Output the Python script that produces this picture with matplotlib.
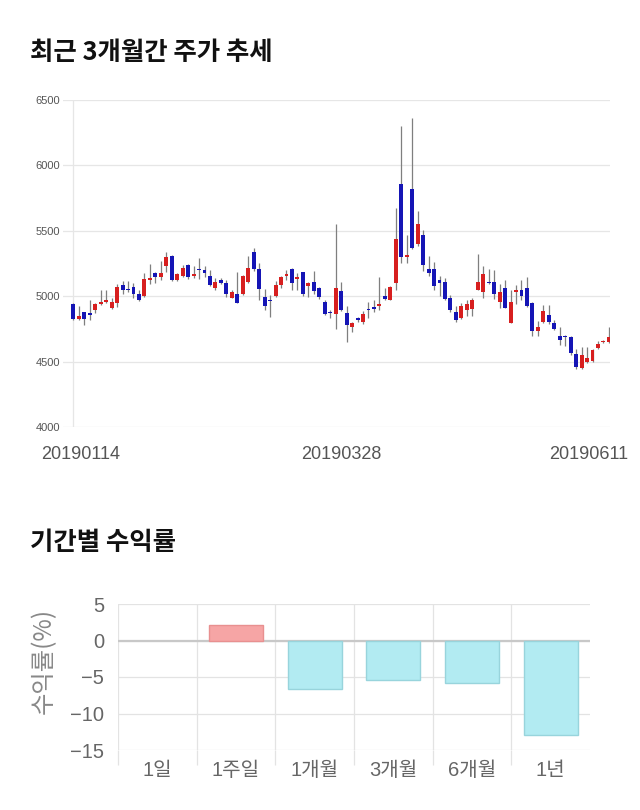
import matplotlib
matplotlib.use("Agg")
import matplotlib.pyplot as plt
import matplotlib.transforms as mtransforms

plt.rcParams['font.family'] = ['Noto Sans CJK KR', 'DejaVu Sans']
tick_font = ['Liberation Sans', 'Noto Sans CJK KR']

# daily candles (open, high, low, close), 20190114 ~ 20190611
opens = [4943, 4826, 4877, 4870, 4897, 4940, 4953, 4908, 4948, 5088,
         5050, 5070, 5019, 4999, 5126, 5177, 5146, 5228, 5309, 5126,
         5157, 5240, 5151, 5210, 5200, 5151, 5060, 5126, 5100, 4990,
         5019, 5019, 5106, 5337, 5207, 4994, 4974, 4999, 5088, 5151,
         5210, 5131, 5182, 5080, 5110, 5060, 4955, 4882, 4866, 5040,
         4871, 4762, 4833, 4805, 4905, 4914, 4925, 5001, 4973, 5100,
         5859, 5299, 5821, 5401, 5469, 5210, 5210, 5123, 5110, 4983,
         4877, 4833, 4897, 4903, 5050, 5030, 5110, 5110, 4958, 5060,
         4795, 5030, 5048, 5060, 4948, 4731, 4800, 4856, 4795, 4698,
         4698, 4688, 4561, 4450, 4496, 4501, 4602, 4648, 4650]
highs = [4950, 4922, 4880, 4968, 4948, 5050, 5050, 4985, 5090, 5115,
         5115, 5100, 5050, 5177, 5248, 5185, 5266, 5335, 5312, 5180,
         5240, 5245, 5230, 5290, 5230, 5200, 5138, 5140, 5126, 5050,
         5182, 5165, 5304, 5368, 5250, 5055, 5012, 5114, 5157, 5202,
         5215, 5177, 5182, 5110, 5190, 5070, 4973, 4897, 5553, 5106,
         4927, 4800, 4840, 4884, 4958, 4968, 5150, 5060, 5075, 5674,
         6301, 5471, 6359, 5649, 5507, 5304, 5258, 5156, 5138, 5011,
         4922, 4948, 4968, 4985, 5324, 5228, 5207, 5197, 5091, 5126,
         5050, 5088, 5126, 5146, 4953, 4808, 4935, 4935, 4820, 4764,
         4703, 4693, 4597, 4612, 4612, 4597, 4658, 4663, 4765]
lows = [4815, 4815, 4782, 4820, 4870, 4935, 4945, 4900, 4920, 5020,
        5030, 4985, 4965, 4995, 5090, 5100, 5125, 5188, 5120, 5120,
        5150, 5130, 5140, 5135, 5150, 5075, 5050, 5095, 4995, 4985,
        4948, 5010, 5100, 5190, 4968, 4897, 4841, 4994, 5060, 5126,
        5050, 5050, 5004, 4994, 5020, 4978, 4858, 4834, 4750, 4884,
        4648, 4724, 4800, 4790, 4834, 4879, 4897, 4968, 4968, 5048,
        5254, 5254, 5360, 5385, 5190, 5151, 5045, 5004, 4968, 4877,
        4800, 4826, 4848, 4852, 5045, 4988, 5095, 4978, 4908, 4908,
        4795, 4944, 4973, 4917, 4698, 4698, 4795, 4790, 4739, 4630,
        4617, 4554, 4445, 4447, 4490, 4498, 4597, 4643, 4643]
closes = [4826, 4846, 4826, 4860, 4940, 4953, 4970, 4958, 5070, 5050,
          5045, 5019, 4968, 5131, 5138, 5146, 5177, 5299, 5126, 5172,
          5218, 5146, 5172, 5200, 5177, 5088, 5108, 5100, 5019, 5030,
          4948, 5151, 5218, 5207, 5057, 4928, 4963, 5088, 5146, 5172,
          5100, 5146, 5019, 5100, 5040, 4994, 4866, 4870, 5060, 4897,
          4777, 4798, 4820, 4861, 4895, 4905, 4940, 4976, 5073, 5439,
          5299, 5314, 5365, 5553, 5235, 5177, 5080, 5098, 4978, 4892,
          4820, 4928, 4940, 4973, 5110, 5172, 5100, 5019, 5030, 4912,
          4958, 5050, 5004, 4922, 4731, 4767, 4889, 4800, 4749, 4668,
          4688, 4566, 4460, 4549, 4527, 4592, 4637, 4660, 4688]
date_labels = ['20190114', '20190328', '20190611']

periods = ['1일', '1주일', '1개월', '3개월', '6개월', '1년']
returns = [0, 2.1, -6.6, -5.45, -5.86, -12.95]

fig = plt.figure(figsize=(6.4, 8.1), dpi=100)

fig.text(30 / 640, 1 - 52 / 810, '최근 3개월간 주가 추세', fontsize=18.3,
         fontweight='bold', va='center', ha='left', color='#111111')
fig.text(30 / 640, 1 - 543 / 810, '기간별 수익률', fontsize=18.3,
         fontweight='bold', va='center', ha='left', color='#111111')

# ---- candle chart
ax = fig.add_axes([63 / 640, 1 - 427 / 810, 547 / 640, 327 / 810])
n = len(opens)
xs = list(range(n))
up_col = '#d71f1f'
dn_col = '#1515b5'
ax.vlines(xs, lows, highs, color='#7f7f7f', linewidth=0.9, zorder=2)
bottoms = []
heights = []
cols = []
for o, c in zip(opens, closes):
    bottoms.append(min(o, c))
    heights.append(max(abs(c - o), 8))
    cols.append(up_col if c >= o else dn_col)
ax.bar(xs, heights, bottom=bottoms, width=0.72, color=cols, linewidth=0, zorder=3)

ax.set_ylim(4000, 6500)
ax.set_xlim(-1.9, 98.2)
ax.set_yticks([4000, 4500, 5000, 5500, 6000, 6500])
ax.tick_params(axis='y', length=0, labelsize=8, labelcolor='#555555', pad=2)
ax.grid(axis='y', color='#e6e6e6', linewidth=0.9)
ax.axvline(0, color='#e6e6e6', linewidth=0.9, zorder=0)
ax.set_axisbelow(True)
for s in ax.spines.values():
    s.set_visible(False)
ax.set_xticks([0, (n - 1) // 2, n - 1])
ax.set_xticklabels(date_labels)
ax.tick_params(axis='x', length=0, labelsize=13, labelcolor='#555555', pad=14)
for t in ax.get_xticklabels() + ax.get_yticklabels():
    t.set_family(tick_font)
lbls = ax.get_xticklabels()
lbls[0].set_transform(lbls[0].get_transform() +
                      mtransforms.ScaledTranslation(7 / 100, 0, fig.dpi_scale_trans))
lbls[-1].set_transform(lbls[-1].get_transform() +
                       mtransforms.ScaledTranslation(-20 / 100, 0, fig.dpi_scale_trans))

# ---- period returns
bx = fig.add_axes([118 / 640, 1 - 750 / 810, 472 / 640, 146 / 810])
bcols = ['#f6a5a5' if r > 0 else '#b2ebf2' for r in returns]
ecols = ['#e89090' if r > 0 else '#98d4dc' for r in returns]
lws = [1 if r != 0 else 0 for r in returns]
bx.bar(range(len(periods)), returns, width=0.69, color=bcols, edgecolor=ecols,
       linewidth=lws, zorder=3)
bx.set_ylim(-15, 5)
bx.set_xlim(-0.5, len(periods) - 0.5)
bx.set_yticks([5, 0, -5, -10, -15])
bx.grid(axis='y', color='#e3e3e3', linewidth=0.9)
bx.axhline(0, color='#c8c8c8', linewidth=1.6, zorder=2)
bx.set_xticks(range(len(periods)))
bx.set_xticklabels(periods)
bx.set_xticks([i - 0.5 for i in range(len(periods))], minor=True)
bx.tick_params(axis='x', which='major', length=0, labelsize=14.5,
               labelcolor='#666666', pad=8)
bx.tick_params(axis='x', which='minor', length=11, color='#e3e3e3', width=0.9)
bx.grid(axis='x', which='minor', color='#e3e3e3', linewidth=0.9)
bx.tick_params(axis='y', length=0, labelsize=14.5, labelcolor='#666666', pad=10)
for t in bx.get_xticklabels() + bx.get_yticklabels():
    t.set_family(tick_font)
bx.set_axisbelow(True)
for s in bx.spines.values():
    s.set_visible(False)
bx.set_ylabel('수익률(%)', fontsize=17.5, color='#888888')
bx.yaxis.set_label_coords(-0.129, 0.61)

fig.savefig('out.png', dpi=100)
